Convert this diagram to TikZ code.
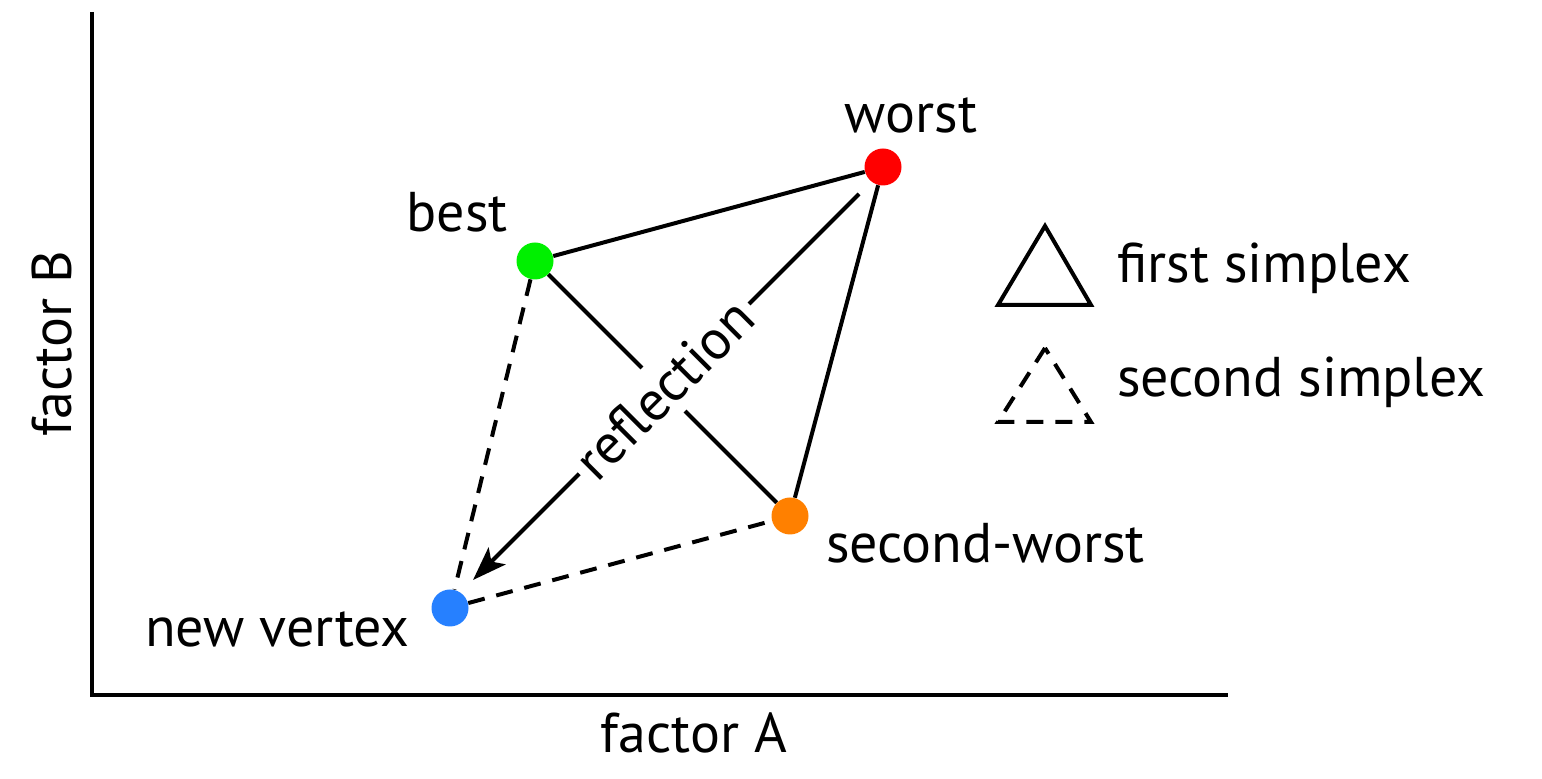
\documentclass[tikz,border=0pt]{standalone}
\usepackage{fontspec}
\setmainfont{PT Sans}
\usetikzlibrary{arrows.meta,calc}
\begin{document}
\begin{tikzpicture}[x=0.5pt,y=-0.5pt,
  every node/.style={font=\fontsize{28}{32}\selectfont},
  dot/.style={circle,inner sep=0pt,minimum size=18.5pt},
  edge/.style={line width=2pt},
  dedge/.style={line width=2pt,dash pattern=on 8.5pt off 6pt},
  lbl/.style={inner sep=0pt}]
\useasboundingbox (0,0) rectangle (1542,779);
% axes
\coordinate (ytop) at (92,12);
\coordinate (orig) at (92,695);
\coordinate (xend) at (1228,695);
\draw[line width=1.8pt] (ytop) -- (orig) -- (xend);
\node[lbl,anchor=base] (fa) at (694,753) {factor A};
\node[lbl,rotate=90,anchor=base] (fb) at (71,344) {factor B};
% vertices
\node[dot,fill={rgb,255:red,255;green,0;blue,0}] (worst) at (883,167) {};
\node[dot,fill={rgb,255:red,0;green,240;blue,0}] (best) at (535,261) {};
\node[dot,fill={rgb,255:red,255;green,128;blue,0}] (sw) at (790,516) {};
\node[dot,fill={rgb,255:red,38;green,128;blue,255}] (nv) at (450,608) {};
% labels
\node[lbl,anchor=base] (lw) at (911,133) {worst};
\node[lbl,anchor=base east] (lb) at (508,232) {best};
\node[lbl,anchor=base west] (lsw) at (826,563) {second-worst};
\node[lbl,anchor=base east] (lnv) at (410,647) {new vertex};
% simplex edges
\draw[edge] (best) -- (worst);
\draw[edge] (worst) -- (sw);
\draw[edge] (best) -- (sw);
\draw[dedge] (best) -- (nv);
\draw[dedge] (nv) -- (sw);
% reflection arrow
\coordinate (rs) at (859,194);
\coordinate (re) at (473,580);
\draw[edge,-{Stealth[length=17pt,width=12pt,inset=4pt]}] (rs) -- (re)
  node[pos=0.505,sloped,fill=white,inner xsep=3pt,inner ysep=5pt] (rl) {reflection};
% legend
\coordinate (t1a) at (1045,226);
\coordinate (t1b) at (998,305);
\coordinate (t1c) at (1091,305);
\draw[edge,line join=miter] (t1a) -- (t1b) -- (t1c) -- cycle;
\coordinate (t2a) at (1045,348);
\coordinate (t2b) at (998,422);
\coordinate (t2c) at (1091,422);
\draw[dedge] (t2a) -- (t2b) -- (t2c) -- cycle;
\node[lbl,anchor=base west] (l1) at (1117,283) {first simplex};
\node[lbl,anchor=base west] (l2) at (1117,397) {second simplex};
\end{tikzpicture}
\end{document}
